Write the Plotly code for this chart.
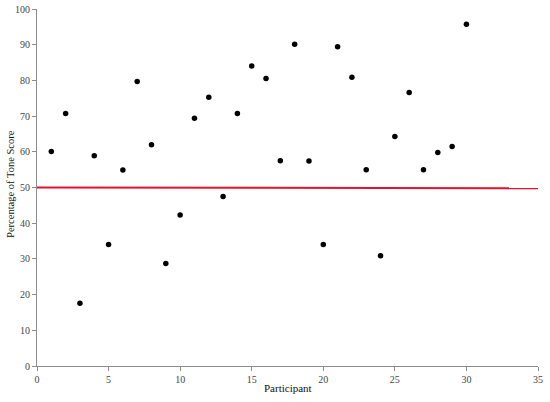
import plotly.graph_objects as go

participants = list(range(1, 31))
tone_scores = [60.1, 70.7, 17.6, 58.9, 34.0, 54.9, 79.7, 62.0, 28.7, 42.3,
               69.4, 75.3, 47.5, 70.7, 84.0, 80.5, 57.5, 90.1, 57.4, 34.0,
               89.4, 80.9, 55.0, 30.9, 64.3, 76.6, 55.0, 59.8, 61.5, 95.7]
line_x = [0, 35]
line_y = [50.0, 49.8]

_AXIS = "#8c8c8c"
_FONT = "Liberation Serif"

fig = go.Figure()
fig.add_trace(go.Scatter(
    x=line_x, y=line_y, mode="lines",
    line=dict(color="#e8112d", width=2),
    hoverinfo="skip",
))
fig.add_trace(go.Scatter(
    x=participants, y=tone_scores, mode="markers",
    marker=dict(color="black", size=5.5),
))

fig.update_layout(
    width=550, height=402,
    margin=dict(l=37, r=12, t=9, b=36, autoexpand=False),
    paper_bgcolor="white", plot_bgcolor="white",
    font=dict(family=_FONT, color="#444", size=10),
    showlegend=False,
)
fig.update_xaxes(
    range=[0, 35], tickvals=list(range(0, 36, 5)),
    showgrid=False, zeroline=False, automargin=False,
    showline=True, linecolor=_AXIS, linewidth=1,
    ticks="outside", ticklen=4, tickcolor=_AXIS,
)
fig.update_yaxes(
    range=[0, 100], tickvals=list(range(0, 101, 10)),
    showgrid=False, zeroline=False, automargin=False,
    showline=True, linecolor=_AXIS, linewidth=1,
    ticks="outside", ticklen=4, tickcolor=_AXIS,
)

# axis titles as annotations so they sit exactly where the original has them
fig.add_annotation(text="Participant", xref="paper", yref="paper",
                   x=0.5, y=-0.061, yanchor="middle", showarrow=False,
                   font=dict(size=11, color="#111"))
fig.add_annotation(text="Percentage of Tone Score", xref="paper", yref="paper",
                   x=-0.052, y=0.51, xanchor="center", yanchor="middle",
                   textangle=-90, showarrow=False,
                   font=dict(size=10.5, color="#111"))

# the page's default body margin would push the chart 8px off the window
fig.write_html("out.html", config={"displayModeBar": False},
               post_script="document.body.style.margin = '0';")
